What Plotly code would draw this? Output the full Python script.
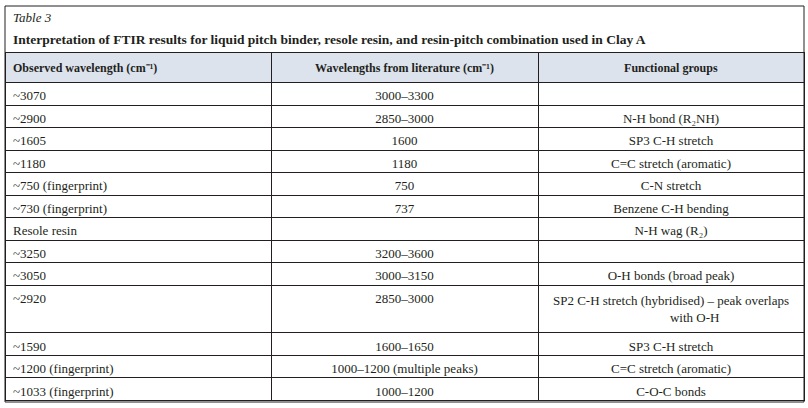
import plotly.graph_objects as go

table_label = "Table 3"
table_title = "Interpretation of FTIR results for liquid pitch binder, resole resin, and resin-pitch combination used in Clay A"

headers = [
    "Observed wavelength (cm⁻¹)",
    "Wavelengths from literature (cm⁻¹)",
    "Functional groups",
]

observed = [
    "~3070", "~2900", "~1605", "~1180", "~750 (fingerprint)", "~730 (fingerprint)",
    "Resole resin", "~3250", "~3050", "~2920", "~1590", "~1200 (fingerprint)",
    "~1033 (fingerprint)",
]
literature = [
    "3000–3300", "2850–3000", "1600", "1180", "750", "737",
    "", "3200–3600", "3000–3150", "2850–3000", "1600–1650",
    "1000–1200 (multiple peaks)", "1000–1200",
]
groups = [
    "", "N-H bond (R₂NH)", "SP3 C-H stretch", "C=C stretch (aromatic)",
    "C-N stretch", "Benzene C-H bending", "N-H wag (R₂)", "",
    "O-H bonds (broad peak)",
    "SP2 C-H stretch (hybridised) – peak overlaps<br>with O-H",
    "SP3 C-H stretch", "C=C stretch (aromatic)", "C-O-C bonds",
]


def center_lines(s):
    # plotly tables left-align wrapped lines inside a centred block; pad shorter lines
    if "<br>" not in s:
        return s
    lines = s.split("<br>")
    longest = max(len(l) for l in lines)
    out = []
    for l in lines:
        pad = int(round((longest - len(l)) * 1.0))
        out.append("\u00a0" * pad + l)
    return "<br>".join(out)


W, H = 808, 408
FONT = "Liberation Serif"
LINE = "#231f20"
TXT = "#231f20"

fig = go.Figure()
fig.add_trace(go.Table(
    domain=dict(x=[5 / W, 804 / W], y=[0, 1 - 52.5 / H]),
    columnwidth=[266, 267, 266],
    header=dict(
        values=["<b>" + h + "</b>" for h in headers],
        align=["left", "center", "center"],
        fill_color="#dce3ed",
        line=dict(color=LINE, width=1),
        font=dict(family=FONT, size=12, color=TXT),
        height=28.5,
    ),
    cells=dict(
        values=[observed, literature, [center_lines(g) for g in groups]],
        align=["left", "center", "center"],
        fill_color="white",
        line=dict(color=LINE, width=1),
        font=dict(family=FONT, size=13, color=TXT),
        height=22.5,
    ),
))

fig.add_shape(type="rect", xref="paper", yref="paper",
              x0=5 / W, x1=804 / W, y0=1 - 402 / H, y1=1 - 6 / H,
              line=dict(color=LINE, width=1), fillcolor="rgba(0,0,0,0)")

fig.add_annotation(text="<i>" + table_label + "</i>", xref="paper", yref="paper",
                   x=11 / W, y=1 - 18 / H, xanchor="left", yanchor="middle",
                   showarrow=False, font=dict(family=FONT, size=13, color=TXT))
fig.add_annotation(text="<b>" + table_title + "</b>", xref="paper", yref="paper",
                   x=11 / W, y=1 - 40 / H, xanchor="left", yanchor="middle",
                   showarrow=False, font=dict(family=FONT, size=13.5, color=TXT))

fig.update_layout(width=W, height=H, margin=dict(l=0, r=0, t=0, b=0),
                  paper_bgcolor="white", plot_bgcolor="white")
fig.write_html("out.html", config={"displayModeBar": False},
               post_script="document.body.style.margin='0';document.body.style.overflow='hidden';")
